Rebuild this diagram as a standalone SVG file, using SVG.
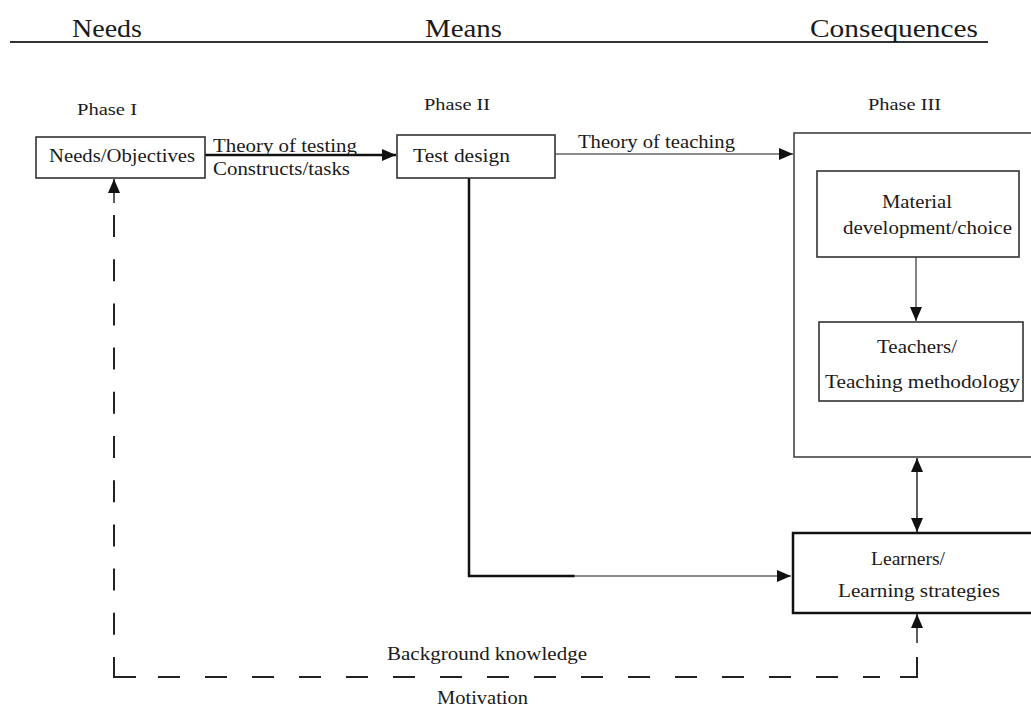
<svg xmlns="http://www.w3.org/2000/svg" width="1031" height="707" viewBox="0 0 1031 707">
<style>
text{font-family:"Liberation Serif","Times New Roman",serif;fill:#1a1a1a;}
.hd{font-size:26px;}
.ph{font-size:17px;}
.bx{font-size:18px;}
.lb{font-size:18px;}
.ft{font-size:19px;}
.box{fill:#fff;stroke:#333;stroke-width:1.6;}
.thick{fill:#fff;stroke:#111;stroke-width:2.5;}
.ln{fill:none;stroke:#333;stroke-width:1.6;}
.gl{fill:none;stroke:#666;stroke-width:1.6;}
.bk{fill:none;stroke:#111;stroke-width:2.5;}
.sd{fill:none;stroke:#222;stroke-width:2;}
</style>
<defs>
<marker id="ah" viewBox="0 0 14 12" refX="14" refY="6" markerWidth="14" markerHeight="12" orient="auto-start-reverse" markerUnits="userSpaceOnUse">
<path d="M0,0 L14,6 L0,12 Z" fill="#111"/>
</marker>
</defs>
<rect width="1031" height="707" fill="#fff"/>

<g id="header">
<line x1="10" y1="42" x2="988" y2="42" stroke="#333" stroke-width="2"/>
<text class="hd" x="72" y="37" textLength="70" lengthAdjust="spacingAndGlyphs">Needs</text>
<text class="hd" x="425" y="37" textLength="77" lengthAdjust="spacingAndGlyphs">Means</text>
<text class="hd" x="810" y="37" textLength="168" lengthAdjust="spacingAndGlyphs">Consequences</text>
<text class="ph" x="77" y="115" textLength="60" lengthAdjust="spacingAndGlyphs">Phase I</text>
<text class="ph" x="424" y="110" textLength="66" lengthAdjust="spacingAndGlyphs">Phase II</text>
<text class="ph" x="868" y="110" textLength="73" lengthAdjust="spacingAndGlyphs">Phase III</text>
</g>

<g id="connectors">
<line class="bk" x1="205" y1="155" x2="396" y2="155" marker-end="url(#ah)"/>
<line class="gl" x1="555" y1="154" x2="793" y2="154" marker-end="url(#ah)"/>
<path class="bk" d="M469,178 V576 H575" stroke-width="2"/>
<line class="gl" x1="574" y1="576" x2="791" y2="576" marker-end="url(#ah)"/>
<line class="gl" x1="916" y1="257" x2="916" y2="321" marker-end="url(#ah)"/>
<line class="ln" x1="917" y1="458" x2="917" y2="532" marker-start="url(#ah)" marker-end="url(#ah)"/>
<line class="ln" x1="917" y1="643" x2="917" y2="614" marker-end="url(#ah)"/>
<path class="sd" d="M900,677 H917 V657"/>
<line class="sd" x1="158" y1="677" x2="880" y2="677" stroke-dasharray="22 25"/>
<path class="sd" d="M114,657 V677 H136"/>
<line class="sd" x1="114" y1="215" x2="114" y2="635" stroke-dasharray="22 22.2"/>
<line class="ln" x1="114" y1="203" x2="114" y2="179" marker-end="url(#ah)"/>
<text class="lb" x="213" y="152" textLength="144" lengthAdjust="spacingAndGlyphs">Theory of testing</text>
<text class="lb" x="213" y="175" textLength="137" lengthAdjust="spacingAndGlyphs">Constructs/tasks</text>
<text class="lb" x="578" y="148" textLength="157" lengthAdjust="spacingAndGlyphs">Theory of teaching</text>
<text class="ft" x="387" y="660" textLength="200" lengthAdjust="spacingAndGlyphs">Background knowledge</text>
<text class="ft" x="437" y="704" textLength="91" lengthAdjust="spacingAndGlyphs">Motivation</text>
</g>

<g id="needs-objectives">
<rect class="box" x="36" y="137" width="169" height="41"/>
<text class="bx" x="49" y="162" textLength="146" lengthAdjust="spacingAndGlyphs">Needs/Objectives</text>
</g>

<g id="test-design">
<rect class="box" x="397" y="135" width="158" height="43"/>
<text class="bx" x="413" y="162" textLength="97" lengthAdjust="spacingAndGlyphs">Test design</text>
</g>

<g id="phase-iii">
<rect x="794" y="133" width="260" height="324" fill="none" stroke="#444" stroke-width="1.6"/>
</g>

<g id="material">
<rect class="box" x="817" y="171" width="202" height="86" stroke="#111" stroke-width="2"/>
<text class="bx" x="882" y="208" textLength="70" lengthAdjust="spacingAndGlyphs">Material</text>
<text class="bx" x="843" y="234" textLength="169" lengthAdjust="spacingAndGlyphs">development/choice</text>
</g>

<g id="teachers">
<rect class="box" x="819" y="322" width="204" height="79"/>
<text class="bx" x="877" y="353" textLength="80" lengthAdjust="spacingAndGlyphs">Teachers/</text>
<text class="bx" x="825" y="388" textLength="195" lengthAdjust="spacingAndGlyphs">Teaching methodology</text>
</g>

<g id="learners">
<rect class="thick" x="793" y="533" width="260" height="80"/>
<text class="bx" x="871" y="565" textLength="74" lengthAdjust="spacingAndGlyphs">Learners/</text>
<text class="bx" x="838" y="597" textLength="162" lengthAdjust="spacingAndGlyphs">Learning strategies</text>
</g>
</svg>
